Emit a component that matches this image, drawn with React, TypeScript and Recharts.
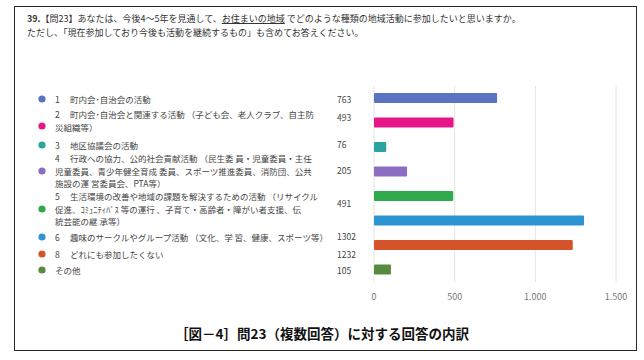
import React from 'react';
import { BarChart, Bar, XAxis, YAxis, CartesianGrid, Cell } from 'recharts';

const categories = ['1', '2', '3', '4', '5', '6', '8', 'その他'];
const categoryLines = [
  ['町内会･自治会の活動'],
  ['町内会･自治会と関連する活動 （子ども会、老人クラブ、自主防', '災組織等）'],
  ['地区協議会の活動'],
  ['行政への協力、公的社会貢献活動 （民生委 員・児童委員・主任', '児童委員、青少年健全育成 委員、スポーツ推進委員、消防団、公共', '施設の運 営委員会、PTA等）'],
  ['生活環境の改善や地域の課題を解決するための活動 （リサイクル', '促進、ｺﾐｭﾆﾃｨﾊﾞｽ 等の運行 、子育て・高齢者・障がい者支援、伝', '統芸能の継 承等）'],
  ['趣味のサークルやグループ活動 （文化、学 習、健康、スポーツ等）'],
  ['どれにも参加したくない'],
  [],
];
const values = [763, 493, 76, 205, 491, 1302, 1232, 105];
const colors = ['#5a74c2', '#e5168a', '#2ba39f', '#8c6dc2', '#2fa94c', '#2d93d3', '#d5532b', '#568a3d'];
const xTicks = [0, 500, 1000, 1500];

// legend row layout (y of first text line, y of dot, y of count label)
const rowFirstLine = [99, 114, 145, 158, 196, 237, 254, 270];
const rowDot = [99, 126, 145, 171, 209, 237, 254, 270];
const rowCount = [99, 117, 144, 170, 203, 236, 254, 270];
const LINE_H = 12.6;

const data = categories.map((name, i) => ({ name, value: values[i] }));

const FONT = '"Noto Sans CJK JP", "Noto Sans", sans-serif';

const fmt = (v: number) => (v >= 1000 ? `${Math.floor(v / 1000)}.${String(v % 1000).padStart(3, '0')}` : String(v));

export default function App() {
  return (
    <div style={{ position: 'absolute', left: 0, top: 0, width: 644, height: 360, background: '#fff', fontFamily: FONT }}>
      <div style={{ position: 'absolute', left: 14, top: 6, width: 621, height: 343, border: '1.5px solid #2a2a2a' }} />
      <div style={{ position: 'absolute', left: 27, top: 12, fontSize: 9, lineHeight: '14px', color: '#333', whiteSpace: 'nowrap' }}>
        <div>
          <b>39.</b>【問23】あなたは、今後4～5年を見通して、<span style={{ textDecoration: 'underline' }}>お住まいの地域</span> でどのような種類の地域活動に参加したいと思いますか。
        </div>
        <div>ただし、「現在参加しており今後も活動を継続するもの」も含めてお答えください。</div>
      </div>

      <BarChart
        width={644}
        height={360}
        data={data}
        layout="vertical"
        margin={{ top: 86, right: 28, bottom: 58, left: 374 }}
        style={{ position: 'absolute', left: 0, top: 0 }}
      >
        <CartesianGrid horizontal={false} stroke="#e4e4e4" />
        <XAxis
          type="number"
          domain={[0, 1500]}
          ticks={xTicks}
          axisLine={false}
          tickLine={false}
          height={20}
          tickMargin={6}
          tick={{ fontSize: 9, fill: '#777', fontFamily: FONT }}
          tickFormatter={fmt}
        />
        <YAxis type="category" dataKey="name" hide width={0} />
        <Bar dataKey="value" barSize={10} radius={1} isAnimationActive={false}>
          {data.map((d, i) => (
            <Cell key={d.name} fill={colors[i]} />
          ))}
        </Bar>
      </BarChart>

      <svg width={644} height={360} style={{ position: 'absolute', left: 0, top: 0, pointerEvents: 'none' }}>
        {categories.map((c, i) => (
          <g key={c} fontFamily={FONT} fontSize={8.5} fill="#444">
            <circle cx={42} cy={rowDot[i]} r={3.6} fill={colors[i]} />
            <text x={55} y={rowFirstLine[i]} dominantBaseline="central">{c}</text>
            {categoryLines[i].map((l, j) => (
              <text key={j} x={j === 0 ? 70 : 55} y={rowFirstLine[i] + j * LINE_H} dominantBaseline="central">
                {l}
              </text>
            ))}
            <text x={337} y={rowCount[i]} dominantBaseline="central">
              {values[i]}
            </text>
          </g>
        ))}
      </svg>

      <div
        style={{
          position: 'absolute',
          left: 0,
          width: 644,
          top: 323,
          textAlign: 'center',
          fontSize: 13.5,
          lineHeight: '20px',
          fontWeight: 700,
          color: '#111',
          whiteSpace: 'nowrap',
        }}
      >
        ［図－4］問23（複数回答）に対する回答の内訳
      </div>
    </div>
  );
}
